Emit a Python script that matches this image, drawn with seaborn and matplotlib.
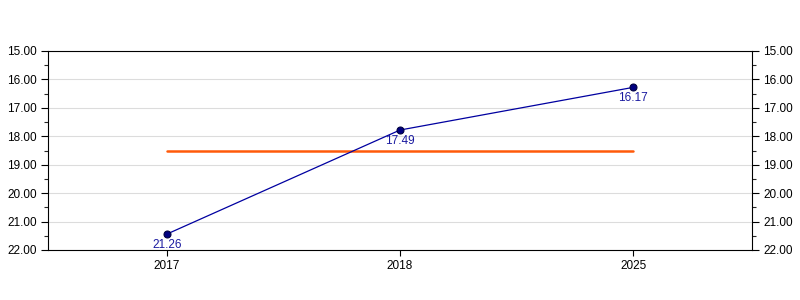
import matplotlib
matplotlib.use("Agg")
import matplotlib.pyplot as plt
import seaborn as sns
import pandas as pd
from matplotlib.ticker import MultipleLocator, FormatStrFormatter

years = ["2017", "2018", "2025"]
values = [21.44, 17.78, 16.28]
value_labels = ["21.26", "17.49", "16.17"]
reference_level = [18.51, 18.51]
reference_years = ["2017", "2025"]

sns.set_style("white")
plt.rcParams['font.family'] = ['Liberation Sans', 'DejaVu Sans']

fig = plt.figure(figsize=(8, 3), dpi=100)
ax = fig.add_axes([0.06, 1 - 250 / 300, 0.88, 199 / 300])

df = pd.DataFrame({"year": years, "value": values})
ref = pd.DataFrame({"year": reference_years, "value": reference_level})

sns.lineplot(data=df, x="year", y="value", ax=ax, color="#0000a0", linewidth=0.9,
             marker="o", markersize=5, markerfacecolor="#000080",
             markeredgecolor="#000040", markeredgewidth=0.8, zorder=4)
sns.lineplot(data=ref, x="year", y="value", ax=ax, color="#ff5a0a", linewidth=1.8, zorder=3)

for x, y, t in zip(years, values, value_labels):
    ax.annotate(t, (x, y), xytext=(0, -3.5), textcoords="offset points",
                ha="center", va="top", fontsize=8.5, color="#1a1aa0", zorder=5)

ax.set_ylim(22, 15)
ax.set_xlim(-0.51, 2.51)
ax.yaxis.set_major_locator(MultipleLocator(1))
ax.yaxis.set_minor_locator(MultipleLocator(0.5))
ax.yaxis.set_major_formatter(FormatStrFormatter("%.2f"))
ax.grid(axis="y", which="major", color="#dcdcdc", linewidth=0.8)
ax.set_axisbelow(True)
ax.set_xlabel("")
ax.set_ylabel("")

for s in ax.spines.values():
    s.set_visible(True)
    s.set_color("black")
    s.set_linewidth(0.8)

ax.tick_params(axis="y", which="major", left=True, right=True, labelleft=True,
               labelright=True, direction="out", length=5, width=0.8,
               labelsize=8.5, colors="black", pad=3)
ax.tick_params(axis="y", which="minor", left=True, right=True, direction="out",
               length=3, width=0.8)
ax.tick_params(axis="x", which="major", bottom=True, top=False, direction="out",
               length=4, width=0.8, labelsize=8.5, colors="black", pad=3)

fig.savefig("out.png", dpi=100)
